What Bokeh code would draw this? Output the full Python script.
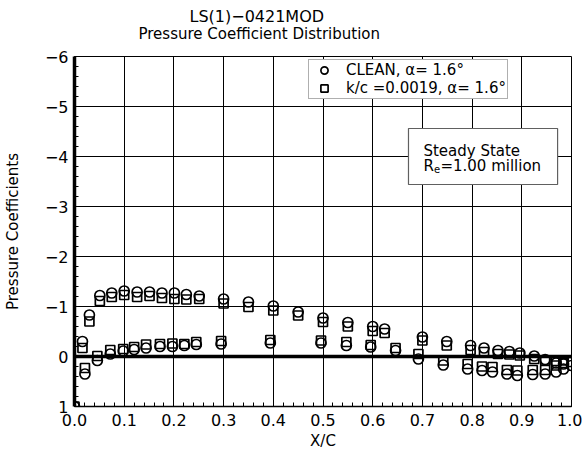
from bokeh.plotting import figure
from bokeh.models import (Range1d, FixedTicker, NumeralTickFormatter, Span, Label,
                          Legend, LegendItem, BoxAnnotation, Title)
from bokeh.embed import file_html
from bokeh.resources import INLINE

FONT = "DejaVu Sans"

# ---- data ----
x_upper = [0.016, 0.030, 0.051, 0.075, 0.100, 0.126, 0.151, 0.176, 0.201, 0.225,
           0.251, 0.300, 0.350, 0.400, 0.450, 0.500, 0.550, 0.600, 0.624, 0.700,
           0.749, 0.797, 0.824, 0.852, 0.875, 0.896, 0.925, 0.947, 0.969, 0.984, 1.000]
cp_clean_upper = [-0.30, -0.83, -1.22, -1.27, -1.31, -1.29, -1.29, -1.27, -1.27, -1.24,
                  -1.21, -1.15, -1.09, -1.01, -0.89, -0.77, -0.68, -0.60, -0.55, -0.39,
                  -0.30, -0.22, -0.17, -0.12, -0.10, -0.07, -0.01, 0.06, 0.13, 0.15, 0.18]
cp_rough_upper = [-0.17, -0.70, -1.11, -1.19, -1.23, -1.19, -1.21, -1.17, -1.15, -1.14,
                  -1.15, -1.06, -0.99, -0.92, -0.82, -0.69, -0.60, -0.51, -0.47, -0.32,
                  -0.22, -0.13, -0.09, -0.05, -0.04, -0.02, 0.05, 0.08, 0.09, 0.08, 0.11]

x_lower = [0.000, 0.021, 0.046, 0.072, 0.098, 0.120, 0.144, 0.172, 0.197, 0.221,
           0.245, 0.295, 0.394, 0.496, 0.547, 0.596, 0.646, 0.692, 0.742, 0.791,
           0.820, 0.841, 0.870, 0.891, 0.922, 0.947, 0.969, 0.984]
cp_clean_lower = [1.00, 0.35, 0.08, -0.05, -0.11, -0.14, -0.17, -0.20, -0.20, -0.22,
                  -0.24, -0.25, -0.27, -0.27, -0.22, -0.19, -0.12, 0.05, 0.17, 0.25,
                  0.28, 0.31, 0.35, 0.38, 0.36, 0.35, 0.31, 0.25]
cp_rough_lower = [1.00, 0.23, -0.01, -0.13, -0.15, -0.19, -0.24, -0.25, -0.26, -0.25,
                  -0.29, -0.31, -0.33, -0.32, -0.29, -0.23, -0.17, -0.05, 0.08, 0.15,
                  0.20, 0.21, 0.27, 0.28, 0.27, 0.27, 0.18, 0.13]

x_ticks = [0.0, 0.1, 0.2, 0.3, 0.4, 0.5, 0.6, 0.7, 0.8, 0.9, 1.0]
x_minor = [i / 50 for i in range(51)]
y_ticks = [-6, -5, -4, -3, -2, -1, 0, 1]
y_tick_labels = {-6: "\u22126", -5: "\u22125", -4: "\u22124", -3: "\u22123",
                 -2: "\u22122", -1: "\u22121", 0: "0", 1: "1"}
y_minor = [-6 + i * 0.2 for i in range(36)]

series_clean = "CLEAN, \u03b1= 1.6\u00b0"
series_rough = "k/c =0.0019, \u03b1= 1.6\u00b0"

# ---- figure ----
p = figure(width=582, height=454, output_backend="svg", toolbar_location=None,
           x_range=Range1d(0, 1), y_range=Range1d(1, -6),
           min_border_left=74, min_border_right=11, min_border_top=56, min_border_bottom=48)
p.background_fill_color = "white"
p.border_fill_color = "white"
p.outline_line_color = "black"
p.outline_line_width = 1
p.outline_line_alpha = 1

# titles (second line closest to the frame)
p.add_layout(Title(text="Pressure Coefficient Distribution", align="left", offset=64,
                   text_font=FONT, text_font_size="15px", text_font_style="normal",
                   text_color="black", standoff=27), "above")
p.add_layout(Title(text="LS(1)\u22120421MOD", align="left", offset=115,
                   text_font=FONT, text_font_size="16px", text_font_style="normal",
                   text_color="black", standoff=-32), "above")

p.xaxis.ticker = FixedTicker(ticks=x_ticks, minor_ticks=x_minor)
p.xaxis.formatter = NumeralTickFormatter(format="0.0")
p.yaxis.ticker = FixedTicker(ticks=y_ticks, minor_ticks=y_minor)
p.yaxis.major_label_overrides = y_tick_labels

for ax in (p.xaxis, p.yaxis):
    ax.major_label_text_font = FONT
    ax.major_label_text_font_size = "16px"
    ax.major_label_text_color = "black"
    ax.major_tick_in = 6
    ax.major_tick_out = 0
    ax.minor_tick_in = 4
    ax.minor_tick_out = 0
    ax.major_tick_line_color = "black"
    ax.minor_tick_line_color = "black"
    ax.axis_line_color = "black"
    ax.axis_label_text_font = FONT
    ax.axis_label_text_font_size = "15px"
    ax.axis_label_text_font_style = "normal"
    ax.axis_label_text_color = "black"
p.yaxis.axis_line_width = 3.5
p.xaxis.axis_line_width = 1.5
p.yaxis.major_label_standoff = 6
p.xaxis.major_label_standoff = 7
p.xaxis.axis_label = "X/C"
p.yaxis.axis_label = "Pressure Coefficients"
p.xaxis.axis_label_standoff = 3
p.yaxis.axis_label_standoff = 20

p.xgrid.grid_line_color = "black"
p.ygrid.grid_line_color = "black"
p.xgrid.grid_line_alpha = 1
p.ygrid.grid_line_alpha = 1
p.xgrid.grid_line_width = 1
p.ygrid.grid_line_width = 1

p.add_layout(Span(location=0, dimension="width", line_color="black", line_width=3.5,
                  level="underlay"))

r_clean = p.scatter(x_upper + x_lower, cp_clean_upper + cp_clean_lower, marker="circle",
                    size=10, fill_color=None, line_color="black", line_width=1.7)
r_rough = p.scatter(x_upper + x_lower, cp_rough_upper + cp_rough_lower, marker="square",
                    size=9, fill_color=None, line_color="black", line_width=1.7)

legend = Legend(items=[LegendItem(label=series_clean, renderers=[r_clean]),
                       LegendItem(label=series_rough, renderers=[r_rough])],
                location=(234, 307), orientation="vertical",
                label_text_font=FONT, label_text_font_size="15px", label_text_color="black",
                glyph_width=28, glyph_height=18, label_height=18, spacing=0, padding=1,
                label_standoff=8, margin=0,
                border_line_color="#606060", border_line_width=1.2,
                background_fill_color="white", background_fill_alpha=1)
p.add_layout(legend, "center")

# annotation box
p.add_layout(BoxAnnotation(left=0.672, right=0.972, top=-4.56, bottom=-3.44,
                           fill_color="white", fill_alpha=1, line_color="#606060",
                           line_width=1.2, line_alpha=1))
txt = dict(text_font=FONT, text_font_size="15px", text_color="black",
           text_baseline="middle", text_align="left")
p.add_layout(Label(x=0.702, y=-4.12, text="Steady State", **txt))
p.add_layout(Label(x=0.702, y=-3.82, text="R", **txt))
p.add_layout(Label(x=0.702, y=-3.82, x_offset=10.5, y_offset=-3, text="e",
                   text_font=FONT, text_font_size="10px", text_color="black",
                   text_baseline="middle", text_align="left"))
p.add_layout(Label(x=0.702, y=-3.82, x_offset=17, text="=1.00 million", **txt))

open("out.html", "w").write(file_html(p, INLINE))
